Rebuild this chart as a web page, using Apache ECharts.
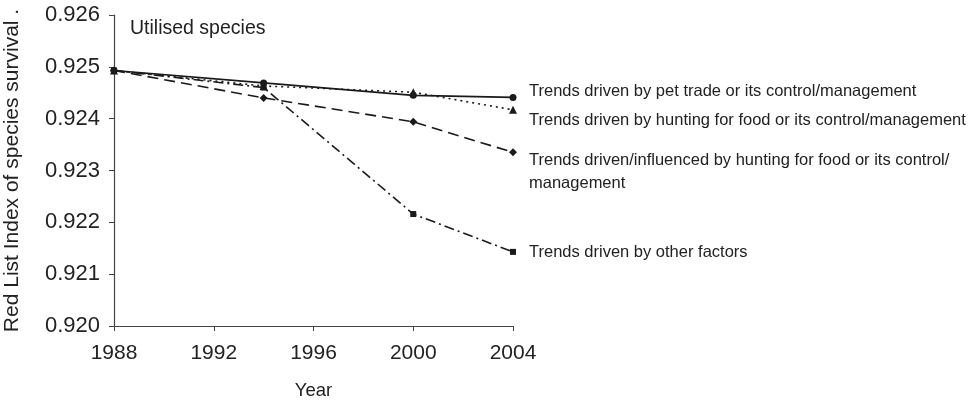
<!DOCTYPE html>
<html>
<head>
<meta charset="utf-8">
<script src="https://cdn.jsdelivr.net/npm/echarts@6/dist/echarts.min.js"></script>
<style>html,body{margin:0;padding:0;background:#fff}#c{width:971px;height:401px}</style>
</head>
<body>
<div id="c"></div>
<script>
const years = [1988, 1994, 2000, 2004];
const petTrade = [0.92493, 0.92469, 0.92445, 0.92441];
const huntingFood = [0.92493, 0.92463, 0.92451, 0.92417];
const influencedHunting = [0.92493, 0.92440, 0.92394, 0.92335];
const otherFactors = [0.92493, 0.92460, 0.92216, 0.92143];
const seriesNames = [
  'Trends driven by pet trade or its control/management',
  'Trends driven by hunting for food or its control/management',
  'Trends driven/influenced by hunting for food or its control/\nmanagement',
  'Trends driven by other factors'
];
const yTicks = [0.920, 0.921, 0.922, 0.923, 0.924, 0.925, 0.926];
const xTicks = [1988, 1992, 1996, 2000, 2004];

const ink = '#1a1a1a';
const font = '"Liberation Sans", Arial, sans-serif';
function pairs(v){ return years.map((y,i)=>[y, v[i]]); }
function mk(name, vals, symbol, size, lineType, dy){
  return {
    type: 'line', name: name, data: pairs(vals),
    symbol: symbol, symbolSize: size,
    itemStyle: {color: ink},
    lineStyle: {color: ink, width: 1.6, type: lineType},
    endLabel: {show: true, formatter: name, distance: 0, offset: [16, dy],
      color: '#222', fontFamily: font, fontSize: 16.5, lineHeight: 23, align: 'left'},
    emphasis: {disabled: true}
  };
}
const chart = echarts.init(document.getElementById('c'), null, {renderer: 'canvas'});
chart.setOption({
  animation: false,
  backgroundColor: '#fff',
  title: {text: 'Utilised species', left: 125, top: 14,
    textStyle: {fontFamily: font, fontSize: 19.5, fontWeight: 'normal', color: '#222'}},
  grid: {left: 114, right: 458, top: 15, bottom: 75, containLabel: false, outerBoundsMode: 'none'},
  xAxis: {type: 'value', min: xTicks[0], max: xTicks[xTicks.length-1], interval: 4,
    name: 'Year', nameLocation: 'middle', nameGap: 55,
    nameTextStyle: {fontFamily: font, fontSize: 18.5, color: '#222'},
    axisLine: {lineStyle: {color: '#444', width: 1.2}},
    axisTick: {show: true, length: 5, lineStyle: {color: '#444'}},
    axisLabel: {fontFamily: font, fontSize: 21, color: '#222', margin: 17,
      formatter: v => String(v)},
    splitLine: {show: false}},
  yAxis: {type: 'value', min: yTicks[0], max: yTicks[yTicks.length-1], interval: 0.001,
    name: 'Red List Index of species survival .', nameLocation: 'middle', nameGap: 91,
    nameTextStyle: {fontFamily: font, fontSize: 21, color: '#222'},
    axisLine: {show: true, lineStyle: {color: '#444', width: 1.2}},
    axisTick: {show: true, length: 5, lineStyle: {color: '#444'}},
    axisLabel: {fontFamily: font, fontSize: 22, color: '#222', margin: 14,
      formatter: v => v.toFixed(3)},
    splitLine: {show: false}},
  series: [
    mk(seriesNames[0], petTrade, 'circle', 7, 'solid', -6),
    mk(seriesNames[1], huntingFood, 'triangle', 8, [2, 4], 11),
    mk(seriesNames[2], influencedHunting, 'diamond', 8, [11, 6], 20),
    mk(seriesNames[3], otherFactors, 'rect', 6, [10, 4, 2, 4], 1)
  ]
});
</script>
</body>
</html>
